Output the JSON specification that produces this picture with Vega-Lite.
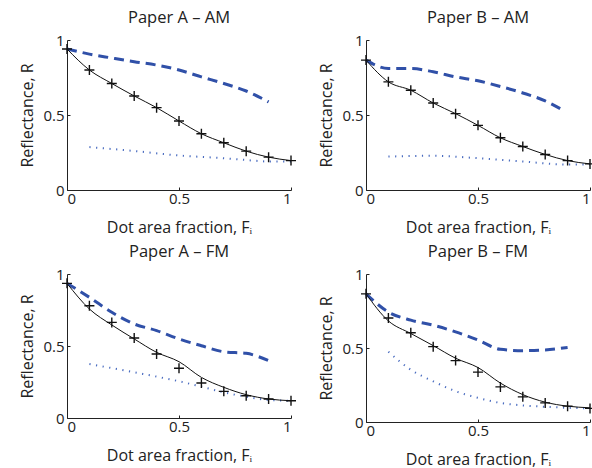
{
  "$schema": "https://vega.github.io/schema/vega-lite/v6.json",
  "padding": {"left": 19, "top": 9, "right": 0, "bottom": 0},
  "datasets": {
    "d": [
      {"p": "AAM", "s": "meas", "x": 0, "y": 0.94},
      {"p": "AAM", "s": "meas", "x": 0.1, "y": 0.80},
      {"p": "AAM", "s": "meas", "x": 0.2, "y": 0.71},
      {"p": "AAM", "s": "meas", "x": 0.3, "y": 0.627},
      {"p": "AAM", "s": "meas", "x": 0.4, "y": 0.549},
      {"p": "AAM", "s": "meas", "x": 0.5, "y": 0.46},
      {"p": "AAM", "s": "meas", "x": 0.6, "y": 0.375},
      {"p": "AAM", "s": "meas", "x": 0.7, "y": 0.315},
      {"p": "AAM", "s": "meas", "x": 0.8, "y": 0.259},
      {"p": "AAM", "s": "meas", "x": 0.9, "y": 0.219},
      {"p": "AAM", "s": "meas", "x": 1.0, "y": 0.196},
      {"p": "AAM", "s": "model", "x": 0, "y": 0.94},
      {"p": "AAM", "s": "model", "x": 0.1, "y": 0.80},
      {"p": "AAM", "s": "model", "x": 0.2, "y": 0.71},
      {"p": "AAM", "s": "model", "x": 0.3, "y": 0.627},
      {"p": "AAM", "s": "model", "x": 0.4, "y": 0.549},
      {"p": "AAM", "s": "model", "x": 0.5, "y": 0.46},
      {"p": "AAM", "s": "model", "x": 0.6, "y": 0.375},
      {"p": "AAM", "s": "model", "x": 0.7, "y": 0.315},
      {"p": "AAM", "s": "model", "x": 0.8, "y": 0.259},
      {"p": "AAM", "s": "model", "x": 0.9, "y": 0.219},
      {"p": "AAM", "s": "model", "x": 1.0, "y": 0.196},
      {"p": "AAM", "s": "dash", "x": 0, "y": 0.94},
      {"p": "AAM", "s": "dash", "x": 0.1, "y": 0.906},
      {"p": "AAM", "s": "dash", "x": 0.2, "y": 0.88},
      {"p": "AAM", "s": "dash", "x": 0.3, "y": 0.855},
      {"p": "AAM", "s": "dash", "x": 0.4, "y": 0.833},
      {"p": "AAM", "s": "dash", "x": 0.5, "y": 0.80},
      {"p": "AAM", "s": "dash", "x": 0.6, "y": 0.754},
      {"p": "AAM", "s": "dash", "x": 0.7, "y": 0.71},
      {"p": "AAM", "s": "dash", "x": 0.8, "y": 0.66},
      {"p": "AAM", "s": "dash", "x": 0.9, "y": 0.587},
      {"p": "AAM", "s": "dot", "x": 0.1, "y": 0.286},
      {"p": "AAM", "s": "dot", "x": 0.3, "y": 0.26},
      {"p": "AAM", "s": "dot", "x": 0.5, "y": 0.23},
      {"p": "AAM", "s": "dot", "x": 0.7, "y": 0.212},
      {"p": "AAM", "s": "dot", "x": 0.8, "y": 0.20},
      {"p": "AAM", "s": "dot", "x": 0.9, "y": 0.19},
      {"p": "AAM", "s": "dot", "x": 1.0, "y": 0.19},

      {"p": "BAM", "s": "meas", "x": 0, "y": 0.866},
      {"p": "BAM", "s": "meas", "x": 0.1, "y": 0.721},
      {"p": "BAM", "s": "meas", "x": 0.2, "y": 0.665},
      {"p": "BAM", "s": "meas", "x": 0.3, "y": 0.58},
      {"p": "BAM", "s": "meas", "x": 0.4, "y": 0.509},
      {"p": "BAM", "s": "meas", "x": 0.5, "y": 0.431},
      {"p": "BAM", "s": "meas", "x": 0.6, "y": 0.348},
      {"p": "BAM", "s": "meas", "x": 0.7, "y": 0.29},
      {"p": "BAM", "s": "meas", "x": 0.8, "y": 0.237},
      {"p": "BAM", "s": "meas", "x": 0.9, "y": 0.196},
      {"p": "BAM", "s": "meas", "x": 1.0, "y": 0.174},
      {"p": "BAM", "s": "model", "x": 0, "y": 0.866},
      {"p": "BAM", "s": "model", "x": 0.1, "y": 0.721},
      {"p": "BAM", "s": "model", "x": 0.2, "y": 0.665},
      {"p": "BAM", "s": "model", "x": 0.3, "y": 0.58},
      {"p": "BAM", "s": "model", "x": 0.4, "y": 0.509},
      {"p": "BAM", "s": "model", "x": 0.5, "y": 0.431},
      {"p": "BAM", "s": "model", "x": 0.6, "y": 0.348},
      {"p": "BAM", "s": "model", "x": 0.7, "y": 0.29},
      {"p": "BAM", "s": "model", "x": 0.8, "y": 0.237},
      {"p": "BAM", "s": "model", "x": 0.9, "y": 0.196},
      {"p": "BAM", "s": "model", "x": 1.0, "y": 0.174},
      {"p": "BAM", "s": "dash", "x": 0, "y": 0.866},
      {"p": "BAM", "s": "dash", "x": 0.1, "y": 0.81},
      {"p": "BAM", "s": "dash", "x": 0.2, "y": 0.81},
      {"p": "BAM", "s": "dash", "x": 0.3, "y": 0.788},
      {"p": "BAM", "s": "dash", "x": 0.4, "y": 0.754},
      {"p": "BAM", "s": "dash", "x": 0.5, "y": 0.728},
      {"p": "BAM", "s": "dash", "x": 0.6, "y": 0.69},
      {"p": "BAM", "s": "dash", "x": 0.7, "y": 0.647},
      {"p": "BAM", "s": "dash", "x": 0.8, "y": 0.594},
      {"p": "BAM", "s": "dash", "x": 0.87, "y": 0.54},
      {"p": "BAM", "s": "dot", "x": 0.1, "y": 0.223},
      {"p": "BAM", "s": "dot", "x": 0.3, "y": 0.228},
      {"p": "BAM", "s": "dot", "x": 0.5, "y": 0.212},
      {"p": "BAM", "s": "dot", "x": 0.7, "y": 0.19},
      {"p": "BAM", "s": "dot", "x": 0.9, "y": 0.17},
      {"p": "BAM", "s": "dot", "x": 1.0, "y": 0.17},

      {"p": "AFM", "s": "meas", "x": 0, "y": 0.935},
      {"p": "AFM", "s": "meas", "x": 0.1, "y": 0.78},
      {"p": "AFM", "s": "meas", "x": 0.2, "y": 0.664},
      {"p": "AFM", "s": "meas", "x": 0.3, "y": 0.556},
      {"p": "AFM", "s": "meas", "x": 0.4, "y": 0.444},
      {"p": "AFM", "s": "meas", "x": 0.5, "y": 0.345},
      {"p": "AFM", "s": "meas", "x": 0.6, "y": 0.243},
      {"p": "AFM", "s": "meas", "x": 0.7, "y": 0.185},
      {"p": "AFM", "s": "meas", "x": 0.8, "y": 0.155},
      {"p": "AFM", "s": "meas", "x": 0.9, "y": 0.132},
      {"p": "AFM", "s": "meas", "x": 1.0, "y": 0.12},
      {"p": "AFM", "s": "model", "x": 0, "y": 0.935},
      {"p": "AFM", "s": "model", "x": 0.1, "y": 0.757},
      {"p": "AFM", "s": "model", "x": 0.2, "y": 0.646},
      {"p": "AFM", "s": "model", "x": 0.3, "y": 0.549},
      {"p": "AFM", "s": "model", "x": 0.4, "y": 0.456},
      {"p": "AFM", "s": "model", "x": 0.5, "y": 0.391},
      {"p": "AFM", "s": "model", "x": 0.6, "y": 0.282},
      {"p": "AFM", "s": "model", "x": 0.7, "y": 0.213},
      {"p": "AFM", "s": "model", "x": 0.8, "y": 0.162},
      {"p": "AFM", "s": "model", "x": 0.9, "y": 0.132},
      {"p": "AFM", "s": "model", "x": 1.0, "y": 0.12},
      {"p": "AFM", "s": "dash", "x": 0, "y": 0.935},
      {"p": "AFM", "s": "dash", "x": 0.1, "y": 0.838},
      {"p": "AFM", "s": "dash", "x": 0.2, "y": 0.734},
      {"p": "AFM", "s": "dash", "x": 0.3, "y": 0.653},
      {"p": "AFM", "s": "dash", "x": 0.4, "y": 0.607},
      {"p": "AFM", "s": "dash", "x": 0.5, "y": 0.549},
      {"p": "AFM", "s": "dash", "x": 0.6, "y": 0.502},
      {"p": "AFM", "s": "dash", "x": 0.7, "y": 0.46},
      {"p": "AFM", "s": "dash", "x": 0.8, "y": 0.449},
      {"p": "AFM", "s": "dash", "x": 0.9, "y": 0.398},
      {"p": "AFM", "s": "dot", "x": 0.1, "y": 0.375},
      {"p": "AFM", "s": "dot", "x": 0.3, "y": 0.317},
      {"p": "AFM", "s": "dot", "x": 0.5, "y": 0.255},
      {"p": "AFM", "s": "dot", "x": 0.6, "y": 0.218},
      {"p": "AFM", "s": "dot", "x": 0.7, "y": 0.178},
      {"p": "AFM", "s": "dot", "x": 0.8, "y": 0.148},
      {"p": "AFM", "s": "dot", "x": 0.9, "y": 0.125},
      {"p": "AFM", "s": "dot", "x": 1.0, "y": 0.12},

      {"p": "BFM", "s": "meas", "x": 0, "y": 0.866},
      {"p": "BFM", "s": "meas", "x": 0.1, "y": 0.703},
      {"p": "BFM", "s": "meas", "x": 0.2, "y": 0.603},
      {"p": "BFM", "s": "meas", "x": 0.3, "y": 0.509},
      {"p": "BFM", "s": "meas", "x": 0.4, "y": 0.415},
      {"p": "BFM", "s": "meas", "x": 0.5, "y": 0.337},
      {"p": "BFM", "s": "meas", "x": 0.6, "y": 0.237},
      {"p": "BFM", "s": "meas", "x": 0.7, "y": 0.17},
      {"p": "BFM", "s": "meas", "x": 0.8, "y": 0.129},
      {"p": "BFM", "s": "meas", "x": 0.9, "y": 0.107},
      {"p": "BFM", "s": "meas", "x": 1.0, "y": 0.092},
      {"p": "BFM", "s": "model", "x": 0, "y": 0.866},
      {"p": "BFM", "s": "model", "x": 0.1, "y": 0.683},
      {"p": "BFM", "s": "model", "x": 0.2, "y": 0.598},
      {"p": "BFM", "s": "model", "x": 0.3, "y": 0.516},
      {"p": "BFM", "s": "model", "x": 0.4, "y": 0.431},
      {"p": "BFM", "s": "model", "x": 0.5, "y": 0.368},
      {"p": "BFM", "s": "model", "x": 0.6, "y": 0.263},
      {"p": "BFM", "s": "model", "x": 0.7, "y": 0.185},
      {"p": "BFM", "s": "model", "x": 0.8, "y": 0.134},
      {"p": "BFM", "s": "model", "x": 0.9, "y": 0.107},
      {"p": "BFM", "s": "model", "x": 1.0, "y": 0.096},
      {"p": "BFM", "s": "dash", "x": 0, "y": 0.866},
      {"p": "BFM", "s": "dash", "x": 0.1, "y": 0.743},
      {"p": "BFM", "s": "dash", "x": 0.2, "y": 0.688},
      {"p": "BFM", "s": "dash", "x": 0.3, "y": 0.654},
      {"p": "BFM", "s": "dash", "x": 0.4, "y": 0.609},
      {"p": "BFM", "s": "dash", "x": 0.5, "y": 0.554},
      {"p": "BFM", "s": "dash", "x": 0.6, "y": 0.491},
      {"p": "BFM", "s": "dash", "x": 0.7, "y": 0.482},
      {"p": "BFM", "s": "dash", "x": 0.8, "y": 0.487},
      {"p": "BFM", "s": "dash", "x": 0.9, "y": 0.504},
      {"p": "BFM", "s": "dot", "x": 0.1, "y": 0.475},
      {"p": "BFM", "s": "dot", "x": 0.2, "y": 0.353},
      {"p": "BFM", "s": "dot", "x": 0.3, "y": 0.275},
      {"p": "BFM", "s": "dot", "x": 0.4, "y": 0.208},
      {"p": "BFM", "s": "dot", "x": 0.5, "y": 0.163},
      {"p": "BFM", "s": "dot", "x": 0.6, "y": 0.129},
      {"p": "BFM", "s": "dot", "x": 0.7, "y": 0.112},
      {"p": "BFM", "s": "dot", "x": 0.8, "y": 0.103},
      {"p": "BFM", "s": "dot", "x": 0.9, "y": 0.096},
      {"p": "BFM", "s": "dot", "x": 1.0, "y": 0.092}
    ]
  },
  "data": {"name": "d"},
  "spacing": 8,
  "vconcat": [
    {
      "spacing": 19,
      "hconcat": [
        {
          "title": "Paper A – AM",
          "width": 224, "height": 150,
          "transform": [{"filter": "datum.p === 'AAM'"}],
          "encoding": {
            "x": {"field": "x", "type": "quantitative", "scale": {"domain": [0, 1]}, "axis": {"values": [0, 0.5, 1], "format": "~g", "title": "Dot area fraction,  Fᵢ"}},
            "y": {"field": "y", "type": "quantitative", "scale": {"domain": [0, 1]}, "axis": {"values": [0, 0.5, 1], "format": "~g", "title": "Reflectance, R"}}
          },
          "layer": [
            {"transform": [{"filter": "datum.s === 'dash'"}], "mark": {"type": "line", "stroke": "#3050a8", "strokeWidth": 3, "strokeDash": [10, 6]}},
            {"transform": [{"filter": "datum.s === 'dot'"}], "mark": {"type": "line", "stroke": "#4a6cc0", "strokeWidth": 2, "strokeDash": [1.2, 5.5]}},
            {"transform": [{"filter": "datum.s === 'model'"}], "mark": {"type": "line", "stroke": "#111", "strokeWidth": 1}},
            {"transform": [{"filter": "datum.s === 'meas'"}], "mark": {"type": "point", "shape": "M-1,0L1,0M0,-1L0,1", "size": 100, "filled": false, "stroke": "#111", "strokeWidth": 1.4, "opacity": 1}}
          ]
        },
        {
          "title": "Paper B – AM",
          "width": 224, "height": 150,
          "transform": [{"filter": "datum.p === 'BAM'"}],
          "encoding": {
            "x": {"field": "x", "type": "quantitative", "scale": {"domain": [0, 1]}, "axis": {"values": [0, 0.5, 1], "format": "~g", "title": "Dot area fraction,  Fᵢ"}},
            "y": {"field": "y", "type": "quantitative", "scale": {"domain": [0, 1]}, "axis": {"values": [0, 0.5, 1], "format": "~g", "title": "Reflectance, R"}}
          },
          "layer": [
            {"transform": [{"filter": "datum.s === 'dash'"}], "mark": {"type": "line", "stroke": "#3050a8", "strokeWidth": 3, "strokeDash": [10, 6]}},
            {"transform": [{"filter": "datum.s === 'dot'"}], "mark": {"type": "line", "stroke": "#4a6cc0", "strokeWidth": 2, "strokeDash": [1.2, 5.5]}},
            {"transform": [{"filter": "datum.s === 'model'"}], "mark": {"type": "line", "stroke": "#111", "strokeWidth": 1}},
            {"transform": [{"filter": "datum.s === 'meas'"}], "mark": {"type": "point", "shape": "M-1,0L1,0M0,-1L0,1", "size": 100, "filled": false, "stroke": "#111", "strokeWidth": 1.4, "opacity": 1}}
          ]
        }
      ]
    },
    {
      "spacing": 19,
      "hconcat": [
        {
          "title": "Paper A – FM",
          "width": 224, "height": 144,
          "transform": [{"filter": "datum.p === 'AFM'"}],
          "encoding": {
            "x": {"field": "x", "type": "quantitative", "scale": {"domain": [0, 1]}, "axis": {"values": [0, 0.5, 1], "format": "~g", "title": "Dot area fraction, Fᵢ"}},
            "y": {"field": "y", "type": "quantitative", "scale": {"domain": [0, 1]}, "axis": {"values": [0, 0.5, 1], "format": "~g", "title": "Reflectance, R"}}
          },
          "layer": [
            {"transform": [{"filter": "datum.s === 'dash'"}], "mark": {"type": "line", "stroke": "#3050a8", "strokeWidth": 3, "strokeDash": [10, 6]}},
            {"transform": [{"filter": "datum.s === 'dot'"}], "mark": {"type": "line", "stroke": "#4a6cc0", "strokeWidth": 2, "strokeDash": [1.2, 5.5]}},
            {"transform": [{"filter": "datum.s === 'model'"}], "mark": {"type": "line", "stroke": "#111", "strokeWidth": 1}},
            {"transform": [{"filter": "datum.s === 'meas'"}], "mark": {"type": "point", "shape": "M-1,0L1,0M0,-1L0,1", "size": 100, "filled": false, "stroke": "#111", "strokeWidth": 1.4, "opacity": 1}}
          ]
        },
        {
          "title": "Paper B – FM",
          "width": 224, "height": 148,
          "transform": [{"filter": "datum.p === 'BFM'"}],
          "encoding": {
            "x": {"field": "x", "type": "quantitative", "scale": {"domain": [0, 1]}, "axis": {"values": [0, 0.5, 1], "format": "~g", "title": "Dot area fraction, Fᵢ"}},
            "y": {"field": "y", "type": "quantitative", "scale": {"domain": [0, 1]}, "axis": {"values": [0, 0.5, 1], "format": "~g", "title": "Reflectance, R"}}
          },
          "layer": [
            {"transform": [{"filter": "datum.s === 'dash'"}], "mark": {"type": "line", "stroke": "#3050a8", "strokeWidth": 3, "strokeDash": [10, 6]}},
            {"transform": [{"filter": "datum.s === 'dot'"}], "mark": {"type": "line", "stroke": "#4a6cc0", "strokeWidth": 2, "strokeDash": [1.2, 5.5]}},
            {"transform": [{"filter": "datum.s === 'model'"}], "mark": {"type": "line", "stroke": "#111", "strokeWidth": 1}},
            {"transform": [{"filter": "datum.s === 'meas'"}], "mark": {"type": "point", "shape": "M-1,0L1,0M0,-1L0,1", "size": 100, "filled": false, "stroke": "#111", "strokeWidth": 1.4, "opacity": 1}}
          ]
        }
      ]
    }
  ],
  "config": {
    "view": {"stroke": null},
    "font": "Open Sans",
    "line": {"interpolate": "monotone"},
    "axis": {
      "grid": false,
      "domainColor": "#222",
      "tickColor": "#222",
      "tickSize": -3,
      "labelColor": "#222",
      "titleColor": "#222",
      "labelFont": "Open Sans",
      "titleFont": "Open Sans",
      "labelFontSize": 15,
      "titleFontSize": 16,
      "titleFontWeight": "normal",
      "labelPadding": 4,
      "titlePadding": 13
    },
    "axisY": {"labelPadding": 6, "titlePadding": 7},
    "title": {"font": "Open Sans", "fontSize": 16.5, "fontWeight": "normal", "color": "#222", "offset": 7}
  }
}
